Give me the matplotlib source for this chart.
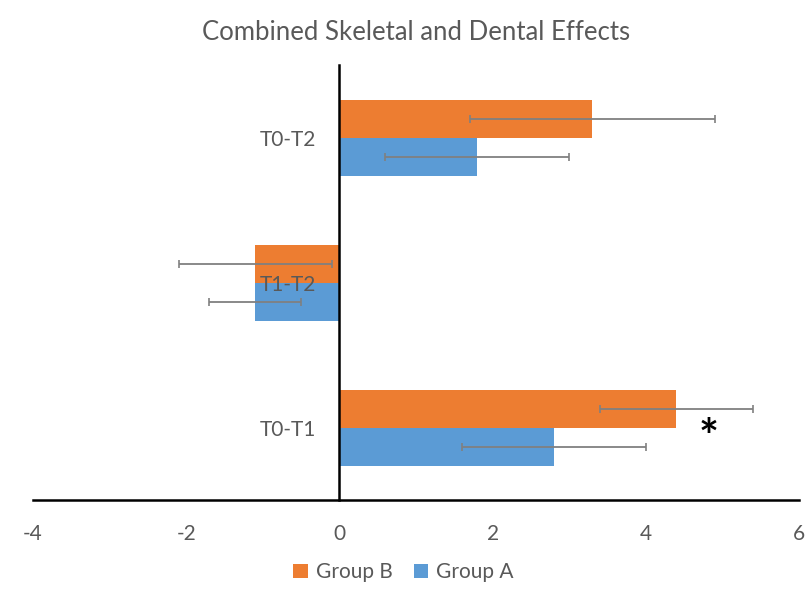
import numpy as np
import matplotlib.pyplot as plt

plt.rcParams['font.family'] = ['Lato', 'DejaVu Sans']
plt.rcParams['axes.unicode_minus'] = False

# data
categories = ['T0-T1', 'T1-T2', 'T0-T2']
group_a = [2.8, -1.1, 1.8]
group_a_err = [1.2, 0.6, 1.2]
group_b = [4.4, -1.1, 3.3]
group_b_err = [1.0, 1.0, 1.6]

blue = '#5B9BD5'
orange = '#ED7D31'
grey = '#595959'

fig = plt.figure(figsize=(8.07, 5.92), dpi=100)
ax = fig.add_axes([0.041, 0.155, 0.949, 0.735])

y = np.arange(len(categories))
h = 0.262
ekw = dict(ecolor='#808080', elinewidth=1.3, capsize=3, capthick=1.2)

ax.barh(y - h / 2, group_a, height=h, color=blue, xerr=group_a_err,
        error_kw=ekw, label='Group A')
ax.barh(y + h / 2, group_b, height=h, color=orange, xerr=group_b_err,
        error_kw=ekw, label='Group B')

# significance marker
ax.text(4.82, -0.08, '*', fontsize=34, fontweight='bold', ha='center',
        va='center', color='black')

ax.set_xlim(-4, 6)
ax.set_ylim(-0.5, 2.5)
ax.set_xticks([-4, -2, 0, 2, 4, 6])
ax.set_yticks(y)
ax.set_yticklabels(categories)
ax.tick_params(axis='both', length=0, labelsize=15, labelcolor=grey)
ax.tick_params(axis='x', pad=17)
ax.tick_params(axis='y', pad=17)

ax.spines['left'].set_position(('data', 0))
ax.spines['left'].set_linewidth(1.8)
ax.spines['bottom'].set_linewidth(1.8)
ax.spines['top'].set_visible(False)
ax.spines['right'].set_visible(False)

ax.set_title('Combined Skeletal and Dental Effects', fontsize=18.5,
             color=grey, pad=18)

handles, labels = ax.get_legend_handles_labels()
fig.legend(handles[::-1], labels[::-1], loc='lower center', ncol=2,
           frameon=False, fontsize=15, labelcolor=grey,
           bbox_to_anchor=(0.5, -0.015), handlelength=0.7, handleheight=0.7,
           columnspacing=1.0, handletextpad=0.4)

fig.savefig('out.png', dpi=100)
